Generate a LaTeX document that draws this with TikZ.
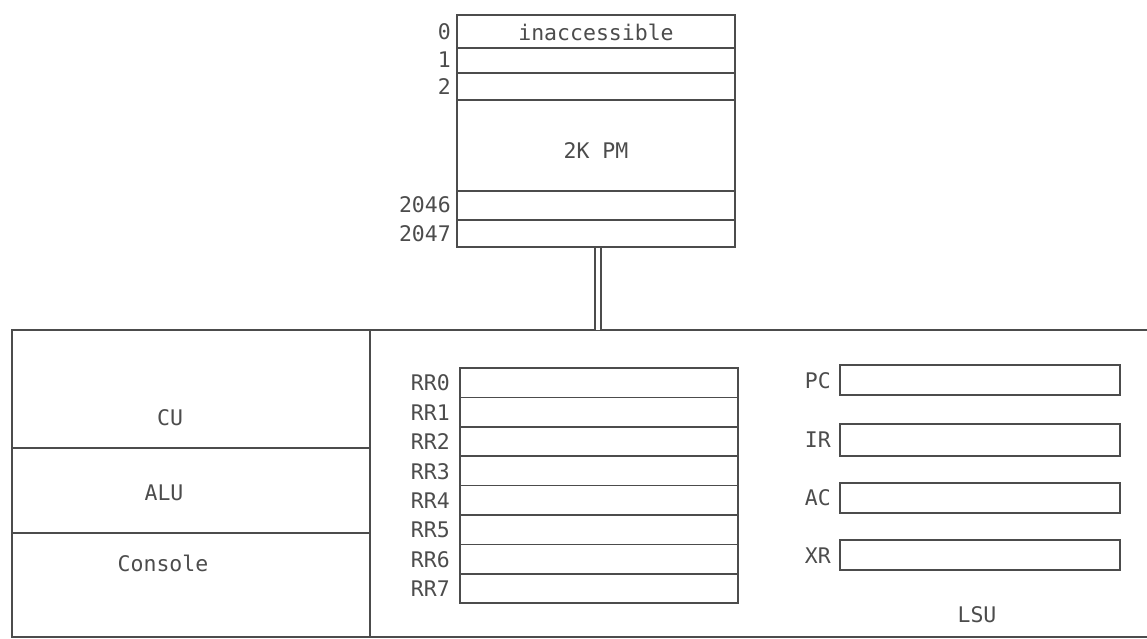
\documentclass[tikz,border=0pt]{standalone}
\usepackage{fontspec}
\setmonofont{DejaVu Sans Mono}
\begin{document}
\begin{tikzpicture}[x=1pt,y=-1pt,
  ln/.style={draw=black!70, line width=1.6pt},
  txt/.style={text=black!70, font=\ttfamily\fontsize{21.5}{24}\selectfont, inner sep=0pt},
  lbl/.style={txt, anchor=east},
  box/.style={ln, rectangle, inner sep=0pt}]
\useasboundingbox (0,0) rectangle (1147,639);
% program memory
\node[box, minimum width=278pt, minimum height=232pt] (mem) at (596,131) {};
\foreach \yy in {48,73,100,191,220} \draw[ln] (457,\yy) -- (735,\yy);
\node[txt] (inacc) at (596,32) {inaccessible};
\node[txt] (pm) at (596,151) {2K PM};
\node[lbl] (a0) at (451,32) {0};
\node[lbl] (a1) at (451,60) {1};
\node[lbl] (a2) at (451,87) {2};
\node[lbl] (a3) at (451,205) {2046};
\node[lbl] (a4) at (451,234) {2047};
% system box
\draw[ln] (1150,330) -- (12,330) -- (12,637) -- (1150,637);
\coordinate (sys) at (598,330);
\draw[ln] (370,330) -- (370,637);
\draw[ln] (12,448) -- (370,448);
\draw[ln] (12,533) -- (370,533);
\node[txt] (cu) at (170,418) {CU};
\node[txt] (alu) at (164,493) {ALU};
\node[txt] (con) at (163,563) {Console};
% connector
\draw[draw=black!70, line width=1.5pt, double=white, double distance=4.5pt] (mem.south -| sys) -- (sys);
% register file
\node[box, minimum width=278pt, minimum height=235pt] (rr) at (599,485.5) {};
\foreach \i in {1,...,7} \draw[ln] (460,{368+\i*29.4}) -- (738,{368+\i*29.4});
\foreach \i in {0,...,7} \node[lbl] (rr\i) at (450,{383+\i*29.4}) {RR\i};
% LSU registers
\node[box, minimum width=280pt, minimum height=30pt] (pc) at (980,380) {};
\node[box, minimum width=280pt, minimum height=32pt] (ir) at (980,440) {};
\node[box, minimum width=280pt, minimum height=30pt] (ac) at (980,498) {};
\node[box, minimum width=280pt, minimum height=30pt] (xr) at (980,555) {};
\node[lbl] (pcl) at (831,381) {PC};
\node[lbl] (irl) at (831,440) {IR};
\node[lbl] (acl) at (831,498) {AC};
\node[lbl] (xrl) at (831,556) {XR};
\node[txt] (lsu) at (977,615) {LSU};
\end{tikzpicture}
\end{document}
